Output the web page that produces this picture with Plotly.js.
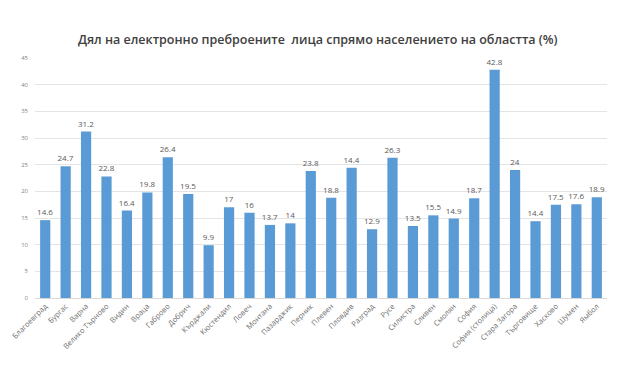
<!DOCTYPE html>
<html><head><meta charset="utf-8">
<script src="https://cdn.plot.ly/plotly-3.0.1.min.js"></script>
<style>html,body{margin:0;padding:0;background:#fff}#chart{width:623px;height:380px}</style>
</head><body><div id="chart"></div>
<script>
const categories = ["Благоевград","Бургас","Варна","Велико Търново","Видин","Враца","Габрово","Добрич","Кърджали","Кюстендил","Ловеч","Монтана","Пазарджик","Перник","Плевен","Пловдив","Разград","Русе","Силистра","Сливен","Смолян","София","София (столица)","Стара Загора","Търговище","Хасково","Шумен","Ямбол"];
const values = [14.6,24.7,31.2,22.8,16.4,19.8,26.4,19.5,9.9,17,16,13.7,14,23.8,18.8,24.4,12.9,26.3,13.5,15.5,14.9,18.7,42.8,24,14.4,17.5,17.6,18.9];
const valueLabels = ["14.6","24.7","31.2","22.8","16.4","19.8","26.4","19.5","9.9","17","16","13.7","14","23.8","18.8","14.4","12.9","26.3","13.5","15.5","14.9","18.7","42.8","24","14.4","17.5","17.6","18.9"];
const yTicks = [0,5,10,15,20,25,30,35,40,45];

Plotly.newPlot('chart', [{
  type: 'bar', x: categories, y: values,
  text: valueLabels, textposition: 'outside', cliponaxis: false, constraintext: 'none',
  textfont: {family: 'Open Sans, sans-serif', size: 8, color: '#595959'},
  marker: {color: '#5b9bd5'},
  hoverinfo: 'none'
}], {
  width: 623, height: 380,
  margin: {l: 35, r: 16, t: 58, b: 82},
  paper_bgcolor: '#fff', plot_bgcolor: '#fff',
  bargap: 0.5,
  title: {text: 'Дял на електронно преброените  лица спрямо населението на областта (%)', x: 0.510, xanchor: 'center', y: 0.895, yanchor: 'middle',
    font: {family: 'Open Sans, sans-serif', size: 12.5, color: '#404040', weight: 600}},
  xaxis: {tickangle: -45, tickfont: {family: 'Open Sans, sans-serif', size: 7.5, color: '#6f6f6f'},
    showgrid: false, showline: true, linecolor: '#d9d9d9', ticks: '', automargin: false},
  yaxis: {range: [0, 45], tickvals: yTicks, showgrid: true, gridcolor: '#e4e4e4', gridwidth: 1,
    zeroline: false, tickfont: {family: 'Open Sans, sans-serif', size: 6, color: '#7f7f7f'}, ticks: '', ticklen: 0,
    ticklabelstandoff: 6, automargin: false},
  showlegend: false
}, {staticPlot: true});
</script></body></html>
